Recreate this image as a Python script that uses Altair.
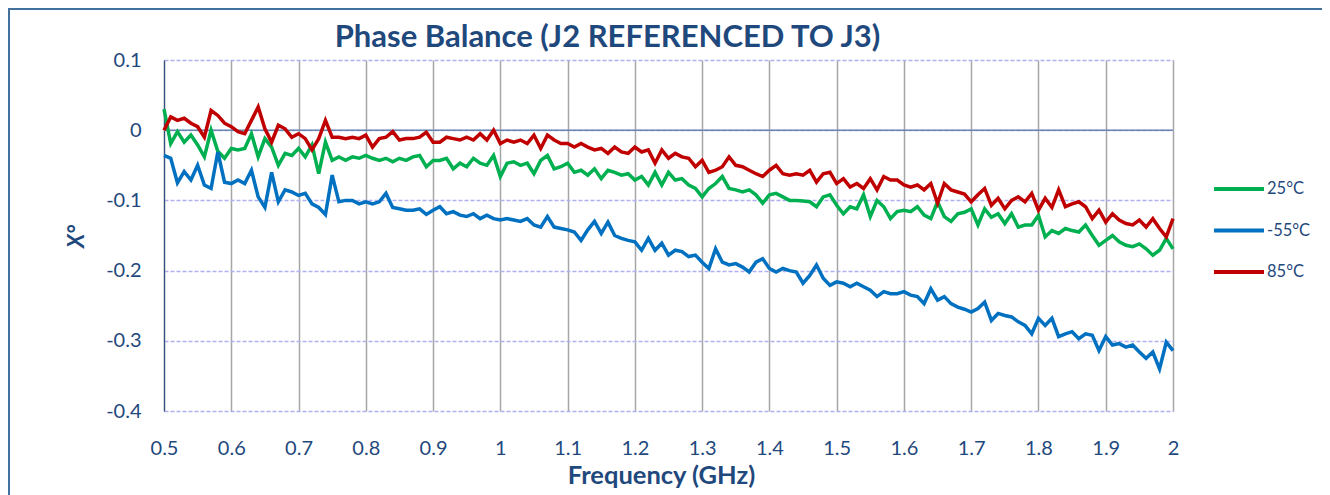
import altair as alt
import pandas as pd

# frequency grid (GHz), one sample every 0.01 GHz from 0.5 to 2.0
freq = [round(0.5 + 0.01 * i, 2) for i in range(151)]

series_names = ["25°C", "-55°C", "85°C"]
series_colors = ["#00B050", "#0070C0", "#C00000"]

x_ticks = [0.5, 0.6, 0.7, 0.8, 0.9, 1.0, 1.1, 1.2, 1.3, 1.4, 1.5, 1.6, 1.7, 1.8, 1.9, 2.0]
y_ticks = [0.1, 0.0, -0.1, -0.2, -0.3, -0.4]

t25 = [0.030, -0.019, -0.002, -0.017, -0.007, -0.021, -0.038, 0.000, -0.030, -0.040,
       -0.026, -0.028, -0.026, -0.005, -0.038, -0.012, -0.024, -0.050, -0.033, -0.036,
       -0.026, -0.038, -0.021, -0.062, -0.017, -0.043, -0.038, -0.043, -0.038, -0.040,
       -0.036, -0.040, -0.043, -0.040, -0.045, -0.040, -0.043, -0.038, -0.036, -0.052,
       -0.043, -0.043, -0.040, -0.055, -0.047, -0.052, -0.040, -0.047, -0.050, -0.036,
       -0.066, -0.047, -0.045, -0.050, -0.047, -0.062, -0.043, -0.036, -0.055, -0.052,
       -0.047, -0.060, -0.057, -0.064, -0.055, -0.069, -0.057, -0.060, -0.064, -0.062,
       -0.071, -0.066, -0.078, -0.060, -0.078, -0.060, -0.071, -0.069, -0.078, -0.083,
       -0.095, -0.083, -0.076, -0.066, -0.083, -0.085, -0.088, -0.085, -0.092, -0.104,
       -0.092, -0.090, -0.095, -0.100, -0.100, -0.101, -0.102, -0.109, -0.095, -0.092,
       -0.107, -0.119, -0.109, -0.112, -0.092, -0.123, -0.100, -0.109, -0.126, -0.116,
       -0.114, -0.116, -0.109, -0.121, -0.126, -0.102, -0.123, -0.130, -0.119, -0.117,
       -0.112, -0.135, -0.112, -0.124, -0.119, -0.133, -0.119, -0.138, -0.135, -0.135,
       -0.121, -0.152, -0.143, -0.147, -0.140, -0.143, -0.145, -0.135, -0.150, -0.164,
       -0.157, -0.150, -0.159, -0.164, -0.166, -0.162, -0.169, -0.178, -0.171, -0.154,
       -0.169]

tm55 = [-0.036, -0.040, -0.075, -0.059, -0.071, -0.050, -0.078, -0.083, -0.031, -0.074,
        -0.076, -0.071, -0.076, -0.057, -0.095, -0.110, -0.060, -0.102, -0.085, -0.088,
        -0.093, -0.090, -0.105, -0.110, -0.120, -0.064, -0.102, -0.100, -0.100, -0.105,
        -0.102, -0.105, -0.102, -0.090, -0.110, -0.112, -0.114, -0.114, -0.112, -0.120,
        -0.114, -0.109, -0.119, -0.116, -0.121, -0.123, -0.119, -0.126, -0.121, -0.126,
        -0.128, -0.126, -0.128, -0.130, -0.126, -0.135, -0.138, -0.123, -0.138, -0.140,
        -0.142, -0.145, -0.157, -0.142, -0.130, -0.147, -0.131, -0.150, -0.154, -0.157,
        -0.159, -0.171, -0.154, -0.171, -0.161, -0.178, -0.171, -0.173, -0.180, -0.178,
        -0.188, -0.197, -0.169, -0.188, -0.192, -0.190, -0.195, -0.202, -0.188, -0.183,
        -0.197, -0.202, -0.197, -0.200, -0.202, -0.218, -0.207, -0.192, -0.211, -0.221,
        -0.216, -0.218, -0.223, -0.218, -0.223, -0.228, -0.237, -0.230, -0.233, -0.233,
        -0.230, -0.235, -0.237, -0.247, -0.226, -0.242, -0.237, -0.247, -0.252, -0.255,
        -0.259, -0.254, -0.245, -0.271, -0.261, -0.264, -0.266, -0.273, -0.278, -0.290,
        -0.268, -0.278, -0.268, -0.294, -0.290, -0.287, -0.297, -0.290, -0.292, -0.314,
        -0.294, -0.306, -0.304, -0.309, -0.306, -0.316, -0.325, -0.316, -0.340, -0.302,
        -0.314]

t85 = [0.000, 0.019, 0.014, 0.017, 0.010, 0.005, -0.010, 0.028, 0.021, 0.010,
       0.005, -0.002, -0.005, 0.014, 0.033, 0.002, -0.017, 0.007, 0.002, -0.010,
       -0.005, -0.012, -0.028, -0.012, 0.014, -0.010, -0.010, -0.012, -0.010, -0.012,
       -0.007, -0.024, -0.012, -0.010, -0.002, -0.014, -0.012, -0.012, -0.010, -0.003,
       -0.017, -0.017, -0.010, -0.012, -0.014, -0.010, -0.014, -0.005, -0.014, 0.000,
       -0.019, -0.014, -0.017, -0.014, -0.019, -0.007, -0.026, -0.007, -0.014, -0.019,
       -0.019, -0.024, -0.019, -0.024, -0.028, -0.026, -0.033, -0.024, -0.031, -0.033,
       -0.024, -0.031, -0.028, -0.047, -0.028, -0.040, -0.033, -0.038, -0.040, -0.052,
       -0.043, -0.060, -0.057, -0.052, -0.038, -0.050, -0.052, -0.057, -0.062, -0.066,
       -0.057, -0.050, -0.062, -0.064, -0.062, -0.064, -0.057, -0.074, -0.062, -0.060,
       -0.076, -0.069, -0.081, -0.076, -0.083, -0.069, -0.085, -0.066, -0.071, -0.071,
       -0.078, -0.081, -0.078, -0.085, -0.076, -0.104, -0.076, -0.085, -0.088, -0.091,
       -0.102, -0.092, -0.083, -0.107, -0.097, -0.112, -0.100, -0.095, -0.102, -0.090,
       -0.114, -0.097, -0.110, -0.085, -0.109, -0.105, -0.102, -0.109, -0.126, -0.114,
       -0.131, -0.119, -0.128, -0.133, -0.135, -0.128, -0.138, -0.126, -0.140, -0.152,
       -0.126]

rows = []
for name, vals in zip(series_names, [t25, tm55, t85]):
    for f, v in zip(freq, vals):
        rows.append({"freq": f, "value": v, "series": name})
df = pd.DataFrame(rows)

TXT = "#1F497D"
FONT = "Lato"

x_scale = alt.Scale(domain=[0.5, 2.0], nice=False, zero=False)
y_scale = alt.Scale(domain=[-0.4, 0.1], nice=False, zero=False)

y_axis = alt.Axis(values=y_ticks, title="X°",
                  labelExpr="datum.value == 0 ? '0' : (datum.value < 0 ? '-' + format(-datum.value, '.1f') : format(datum.value, '.1f'))",
                  domain=True, domainColor="#2F4F80", domainWidth=1.2,
                  ticks=False, grid=True, gridColor="#B0B0F0",
                  gridDash=[4, 2], gridWidth=1.5,
                  labelFontSize=20, labelPadding=23,
                  titleFontSize=22, titleFontWeight="bold", titleFontStyle="italic",
                  titleAngle=270, titleX=-88, titleY=176,
                  titleAlign="center", titleBaseline="middle")

border = alt.Chart(pd.DataFrame({"b": [0]})).mark_rect(
    fillOpacity=0, stroke="#41719C", strokeWidth=2
).encode(
    x=alt.value(-155), x2=alt.value(1400), y=alt.value(-51), y2=alt.value(700)
)

zero_line = alt.Chart(pd.DataFrame({"z": [0.0]})).mark_rule(
    color="#6A84B0", strokeWidth=1.5
).encode(y=alt.Y("z:Q", scale=y_scale, axis=y_axis, title="X°"))

lines = alt.Chart(df).mark_line(strokeWidth=3.5).encode(
    x=alt.X("freq:Q", scale=x_scale,
            axis=alt.Axis(values=x_ticks, title="Frequency (GHz)",
                          labelExpr="format(datum.value, '~g')",
                          domain=False, ticks=False, grid=True,
                          gridColor="#A6A6A6", gridWidth=1.5,
                          labelFontSize=20, labelPadding=27, labelFlush=False,
                          titleFontSize=25.5, titleFontWeight="bold", titlePadding=5,
                          titleX=497, titleAlign="center")),
    y=alt.Y("value:Q", scale=y_scale, axis=y_axis, title="X°"),
    color=alt.Color("series:N",
                    scale=alt.Scale(domain=series_names, range=series_colors),
                    legend=alt.Legend(title=None, orient="none", legendX=1048, legendY=102,
                                      symbolType="stroke", symbolSize=2500,
                                      symbolStrokeWidth=4, labelFontSize=16.5,
                                      labelColor=TXT, labelFont=FONT, labelOffset=1,
                                      rowPadding=5.5)),
)

chart = alt.layer(border, zero_line, lines).properties(
    width=1009, height=351,
    autosize=alt.AutoSizeParams(type="none"),
    padding={"left": 156, "top": 52, "right": 149, "bottom": 84},
    title=alt.TitleParams(text="Phase Balance (J2 REFERENCED TO J3)", font=FONT,
                          fontSize=31, fontWeight="bold", color=TXT, anchor="middle",
                          frame="group", dx=-61, offset=-70, baseline="alphabetic"),
    background="white",
).configure_view(stroke=None).configure_axis(
    labelFont=FONT, titleFont=FONT, labelColor=TXT, titleColor=TXT
)

chart.save("out.html", embed_options={"renderer": "svg", "actions": False})
